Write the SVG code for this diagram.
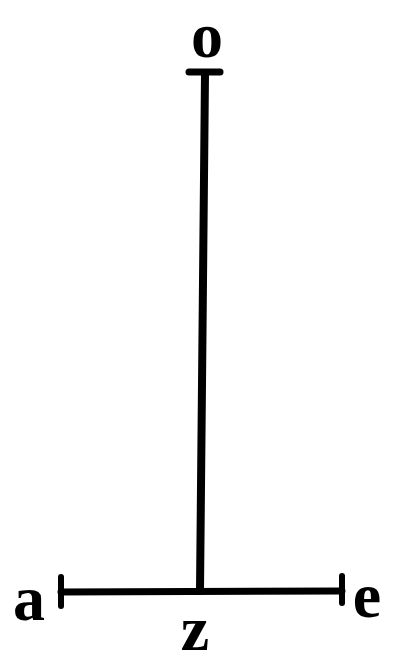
<svg xmlns="http://www.w3.org/2000/svg" width="403" height="665" viewBox="0 0 403 665">
<style>
.ln{stroke:#000;stroke-linecap:round;fill:none}
.lb{font-family:"Liberation Serif",serif;font-weight:bold;font-size:64px;fill:#000;text-anchor:middle}
</style>
<rect width="403" height="665" fill="#fff"/>
<g id="connectors">
<path class="ln" d="M205,74 L200,591" stroke-width="8"/>
<path class="ln" d="M61,592 L342,591" stroke-width="7"/>
<path class="ln" d="M189,72 L220,72" stroke-width="7"/>
<path class="ln" d="M61,577 L61,606" stroke-width="6"/>
<path class="ln" d="M342,576 L342,603" stroke-width="6"/>
</g>
<g id="node-o"><text class="lb" x="207" y="57">o</text></g>
<g id="node-a"><text class="lb" x="29" y="620">a</text></g>
<g id="node-z"><text class="lb" x="195" y="650">z</text></g>
<g id="node-e"><text class="lb" x="367" y="617">e</text></g>
</svg>
